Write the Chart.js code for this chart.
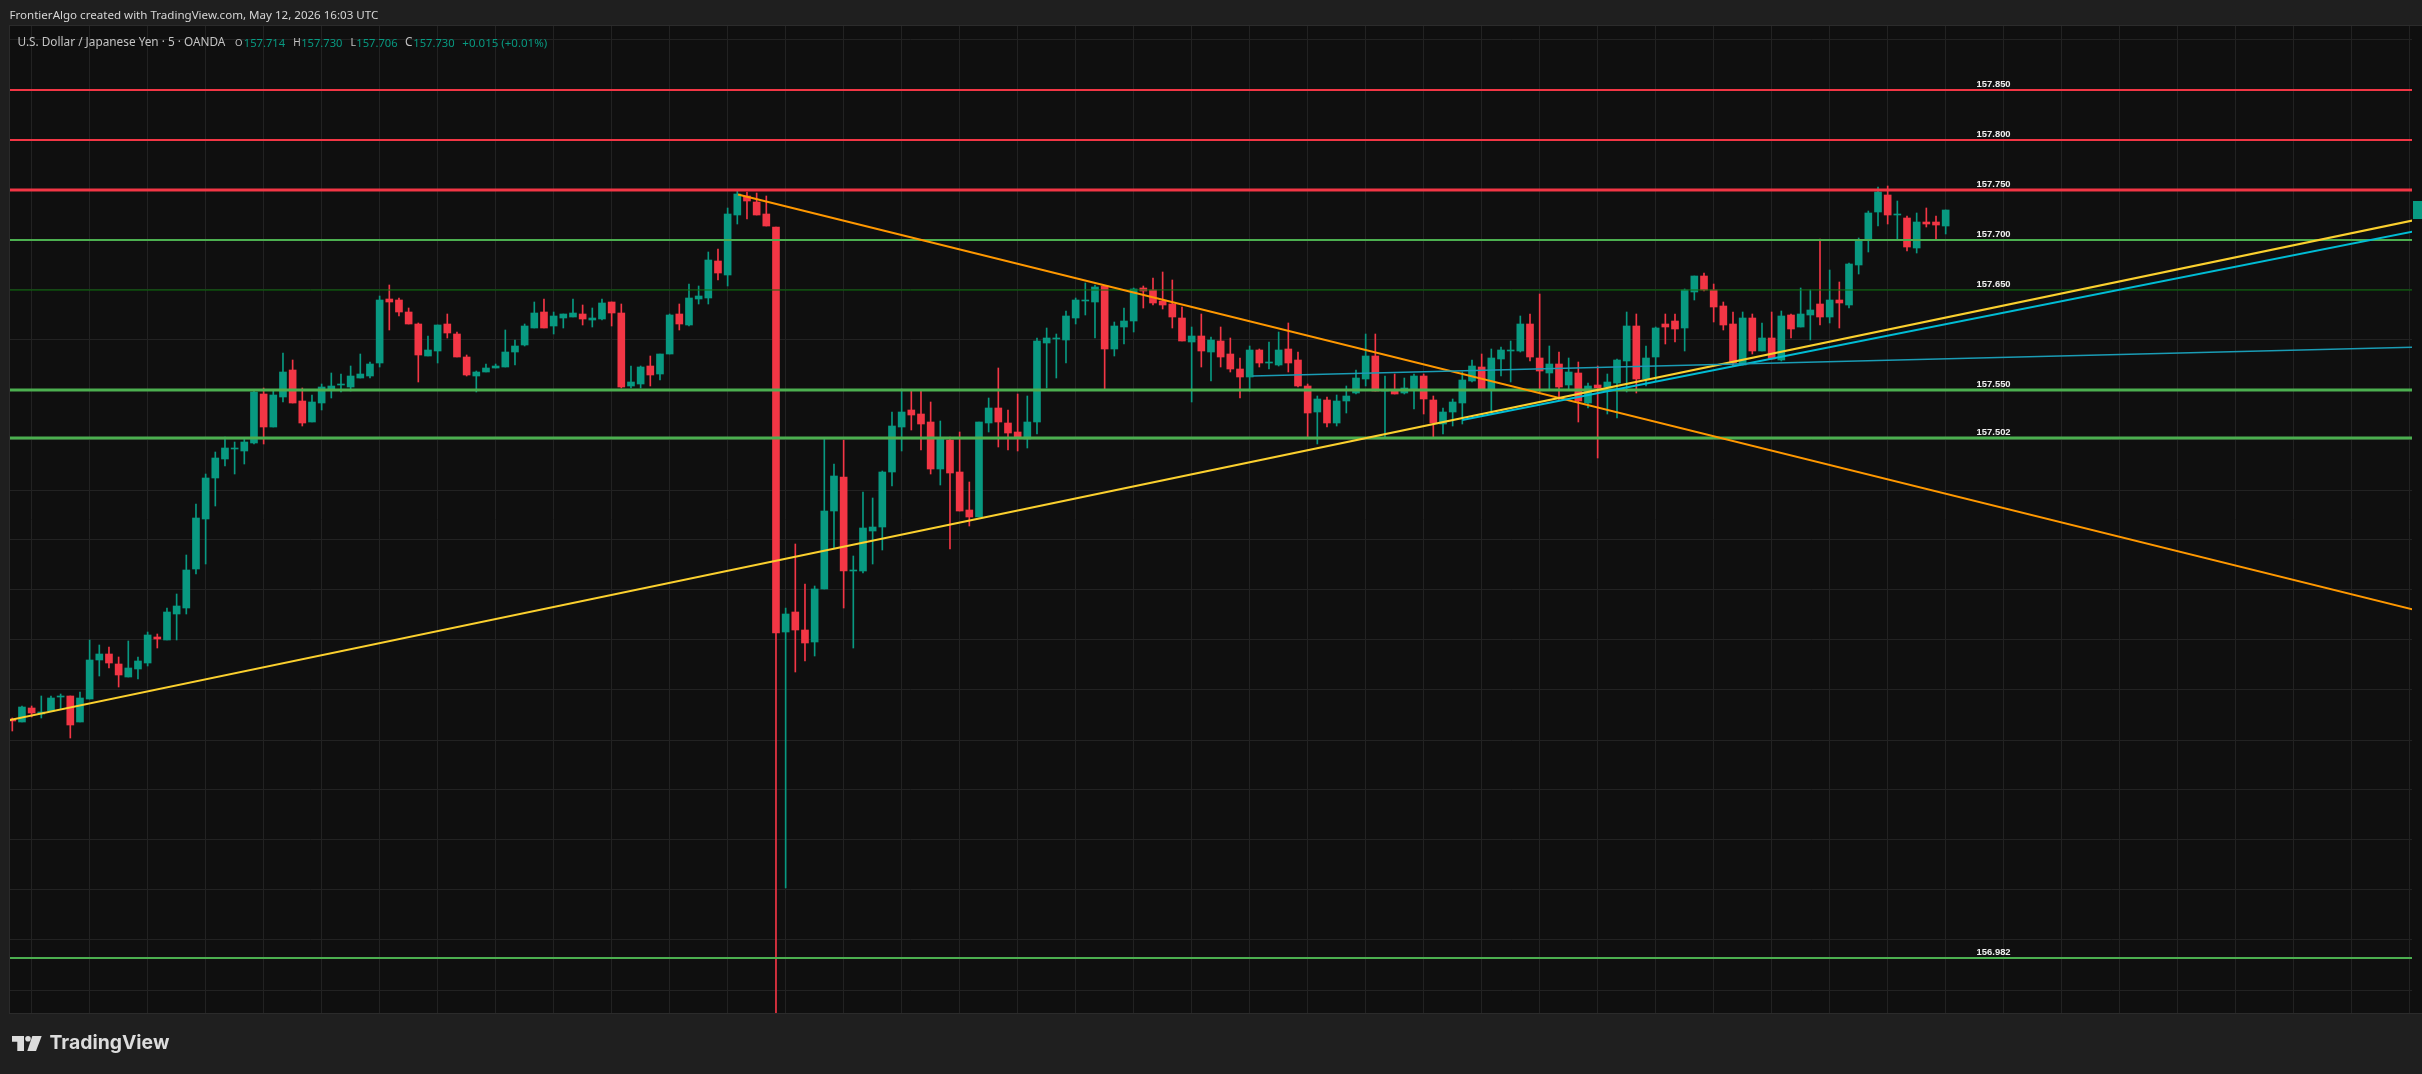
<!DOCTYPE html>
<html>
<head>
<meta charset="utf-8">
<title>USDJPY 5m</title>
<script src="https://cdn.jsdelivr.net/npm/chart.js@4.4.1/dist/chart.umd.min.js"></script>
<style>
  html, body { margin: 0; padding: 0; width: 2422px; height: 1074px; overflow: hidden; background: #1f1f1f; }
  #pane { position: absolute; left: 10px; top: 26px; width: 2412px; height: 987px; background: #0f0f0f;
          box-shadow: 0 0 0 1px #2b2b2b; }
  #chart { position: absolute; left: 0; top: 0; }
  .txt { position: absolute; white-space: nowrap; line-height: 1; }
  #tag { position: absolute; background: #089981; }
  #logo { position: absolute; left: 12px; top: 1036px; }
</style>
</head>
<body>
<div id="pane"></div>
<canvas id="chart" width="2422" height="1074"></canvas>
<div id="tag"></div>
<svg id="logo" width="32" height="16" viewBox="0 0 32 16">
  <path d="M0 0H12V15H5.3V5.7H0Z" fill="#dcdcdc"/>
  <circle cx="16" cy="2.8" r="2.8" fill="#dcdcdc"/>
  <path d="M20.3 0H29.7L24 15H15.3Z" fill="#dcdcdc"/>
</svg>
<script>
// USD/JPY 5 min candles, OANDA
const opens = [
  157.221, 157.218, 157.232, 157.226, 157.229, 157.243, 157.244, 157.218, 157.241, 157.280,
  157.286, 157.276, 157.263, 157.271, 157.277, 157.303, 157.300, 157.326, 157.332, 157.371,
  157.421, 157.462, 157.481, 157.491, 157.489, 157.497, 157.546, 157.513, 157.543, 157.570,
  157.539, 157.518, 157.537, 157.551, 157.555, 157.553, 157.562, 157.564, 157.577, 157.641,
  157.640, 157.628, 157.616, 157.584, 157.589, 157.616, 157.606, 157.583, 157.564, 157.568,
  157.572, 157.573, 157.588, 157.595, 157.612, 157.628, 157.614, 157.622, 157.623, 157.626,
  157.620, 157.621, 157.638, 157.627, 157.554, 157.556, 157.574, 157.566, 157.586, 157.626,
  157.615, 157.641, 157.642, 157.679, 157.665, 157.725, 157.744, 157.738, 157.726, 157.713,
  157.308, 157.328, 157.310, 157.298, 157.351, 157.429, 157.463, 157.369, 157.369, 157.409,
  157.413, 157.468, 157.513, 157.530, 157.526, 157.518, 157.471, 157.500, 157.468, 157.430,
  157.423, 157.517, 157.532, 157.517, 157.508, 157.501, 157.518, 157.597, 157.601, 157.600,
  157.622, 157.639, 157.638, 157.654, 157.591, 157.613, 157.619, 157.652, 157.650, 157.639,
  157.636, 157.622, 157.598, 157.604, 157.588, 157.599, 157.586, 157.571, 157.563, 157.590,
  157.577, 157.575, 157.591, 157.580, 157.554, 157.528, 157.540, 157.517, 157.539, 157.547,
  157.561, 157.584, 157.549, 157.550, 157.547, 157.551, 157.564, 157.540, 157.516, 157.528,
  157.537, 157.559, 157.573, 157.551, 157.581, 157.589, 157.589, 157.616, 157.582, 157.567,
  157.576, 157.555, 157.567, 157.537, 157.555, 157.553, 157.557, 157.579, 157.614, 157.561,
  157.583, 157.616, 157.619, 157.612, 157.648, 157.664, 157.650, 157.634, 157.616, 157.575,
  157.622, 157.589, 157.602, 157.580, 157.625, 157.613, 157.625, 157.636, 157.623, 157.640,
  157.635, 157.675, 157.700, 157.728, 157.745, 157.725, 157.722, 157.692, 157.718, 157.718,
  157.714
];
const highs = [
  157.222, 157.234, 157.234, 157.244, 157.244, 157.246, 157.244, 157.248, 157.300, 157.295,
  157.293, 157.283, 157.299, 157.283, 157.308, 157.306, 157.332, 157.346, 157.385, 157.436,
  157.466, 157.488, 157.503, 157.498, 157.502, 157.550, 157.552, 157.550, 157.587, 157.580,
  157.552, 157.545, 157.556, 157.567, 157.566, 157.574, 157.586, 157.578, 157.644, 157.655,
  157.642, 157.632, 157.617, 157.604, 157.615, 157.626, 157.608, 157.585, 157.569, 157.576,
  157.576, 157.610, 157.600, 157.616, 157.638, 157.641, 157.628, 157.626, 157.641, 157.635,
  157.632, 157.641, 157.638, 157.636, 157.574, 157.574, 157.584, 157.586, 157.626, 157.636,
  157.656, 157.654, 157.688, 157.691, 157.732, 157.750, 157.748, 157.747, 157.744, 157.713,
  157.332, 157.396, 157.356, 157.354, 157.501, 157.476, 157.500, 157.384, 157.448, 157.442,
  157.469, 157.528, 157.551, 157.550, 157.550, 157.538, 157.519, 157.503, 157.508, 157.458,
  157.518, 157.542, 157.572, 157.530, 157.546, 157.544, 157.602, 157.612, 157.606, 157.629,
  157.642, 157.657, 157.655, 157.654, 157.618, 157.632, 157.652, 157.654, 157.662, 157.668,
  157.660, 157.633, 157.613, 157.626, 157.603, 157.613, 157.602, 157.582, 157.594, 157.591,
  157.598, 157.608, 157.617, 157.588, 157.556, 157.544, 157.543, 157.545, 157.554, 157.570,
  157.606, 157.606, 157.564, 157.566, 157.562, 157.566, 157.566, 157.544, 157.532, 157.541,
  157.568, 157.580, 157.586, 157.591, 157.593, 157.599, 157.624, 157.626, 157.646, 157.594,
  157.588, 157.582, 157.578, 157.557, 157.574, 157.566, 157.581, 157.628, 157.626, 157.594,
  157.613, 157.626, 157.626, 157.651, 157.664, 157.667, 157.656, 157.638, 157.628, 157.628,
  157.626, 157.617, 157.628, 157.629, 157.626, 157.652, 157.650, 157.701, 157.670, 157.658,
  157.677, 157.702, 157.729, 157.753, 157.754, 157.739, 157.724, 157.727, 157.732, 157.724,
  157.730
];
const lows = [
  157.209, 157.218, 157.223, 157.222, 157.229, 157.231, 157.202, 157.218, 157.241, 157.264,
  157.272, 157.253, 157.263, 157.261, 157.274, 157.292, 157.300, 157.300, 157.326, 157.366,
  157.376, 157.434, 157.474, 157.466, 157.476, 157.496, 157.496, 157.513, 157.538, 157.537,
  157.514, 157.518, 157.530, 157.542, 157.548, 157.549, 157.562, 157.562, 157.573, 157.610,
  157.624, 157.616, 157.558, 157.584, 157.577, 157.602, 157.583, 157.564, 157.548, 157.568,
  157.572, 157.573, 157.575, 157.594, 157.612, 157.612, 157.606, 157.612, 157.623, 157.615,
  157.613, 157.620, 157.614, 157.552, 157.552, 157.552, 157.554, 157.560, 157.586, 157.610,
  157.614, 157.636, 157.636, 157.660, 157.654, 157.716, 157.721, 157.725, 157.714, 156.920,
  157.052, 157.268, 157.279, 157.284, 157.351, 157.392, 157.332, 157.292, 157.367, 157.376,
  157.390, 157.454, 157.489, 157.510, 157.490, 157.466, 157.455, 157.391, 157.429, 157.414,
  157.423, 157.508, 157.493, 157.490, 157.489, 157.492, 157.506, 157.552, 157.562, 157.577,
  157.616, 157.625, 157.602, 157.551, 157.584, 157.596, 157.608, 157.632, 157.635, 157.631,
  157.612, 157.599, 157.538, 157.573, 157.559, 157.573, 157.568, 157.542, 157.549, 157.573,
  157.571, 157.574, 157.568, 157.553, 157.503, 157.496, 157.513, 157.514, 157.527, 157.546,
  157.554, 157.549, 157.502, 157.546, 157.546, 157.531, 157.526, 157.503, 157.506, 157.514,
  157.516, 157.558, 157.551, 157.526, 157.564, 157.558, 157.588, 157.579, 157.548, 157.551,
  157.540, 157.551, 157.518, 157.532, 157.482, 157.526, 157.522, 157.548, 157.547, 157.554,
  157.559, 157.596, 157.598, 157.589, 157.640, 157.649, 157.618, 157.610, 157.574, 157.575,
  157.586, 157.589, 157.581, 157.579, 157.602, 157.613, 157.600, 157.615, 157.617, 157.612,
  157.632, 157.666, 157.688, 157.714, 157.716, 157.700, 157.689, 157.687, 157.713, 157.700,
  157.706
];
const closes = [
  157.219, 157.233, 157.227, 157.228, 157.242, 157.244, 157.215, 157.242, 157.280, 157.286,
  157.277, 157.265, 157.272, 157.279, 157.305, 157.301, 157.328, 157.334, 157.370, 157.422,
  157.462, 157.482, 157.492, 157.492, 157.498, 157.548, 157.513, 157.545, 157.568, 157.537,
  157.517, 157.538, 157.553, 157.554, 157.556, 157.564, 157.566, 157.576, 157.640, 157.638,
  157.628, 157.616, 157.585, 157.590, 157.615, 157.607, 157.583, 157.565, 157.568, 157.572,
  157.574, 157.588, 157.594, 157.614, 157.627, 157.612, 157.624, 157.626, 157.627, 157.621,
  157.622, 157.637, 157.627, 157.553, 157.558, 157.573, 157.565, 157.586, 157.625, 157.616,
  157.642, 157.644, 157.680, 157.667, 157.726, 157.746, 157.739, 157.725, 157.714, 157.307,
  157.326, 157.310, 157.297, 157.351, 157.429, 157.464, 157.369, 157.370, 157.412, 157.413,
  157.468, 157.514, 157.528, 157.525, 157.516, 157.471, 157.502, 157.467, 157.429, 157.423,
  157.518, 157.532, 157.518, 157.507, 157.503, 157.518, 157.599, 157.602, 157.602, 157.624,
  157.640, 157.640, 157.653, 157.591, 157.614, 157.619, 157.651, 157.649, 157.637, 157.635,
  157.623, 157.599, 157.604, 157.589, 157.600, 157.583, 157.571, 157.563, 157.590, 157.577,
  157.578, 157.590, 157.577, 157.554, 157.527, 157.541, 157.517, 157.539, 157.544, 157.562,
  157.584, 157.549, 157.550, 157.546, 157.552, 157.564, 157.541, 157.517, 157.528, 157.538,
  157.560, 157.574, 157.551, 157.582, 157.590, 157.590, 157.616, 157.583, 157.569, 157.576,
  157.553, 157.568, 157.539, 157.554, 157.552, 157.558, 157.580, 157.614, 157.561, 157.582,
  157.612, 157.613, 157.611, 157.650, 157.664, 157.650, 157.633, 157.615, 157.577, 157.622,
  157.589, 157.602, 157.581, 157.624, 157.611, 157.626, 157.630, 157.623, 157.640, 157.637,
  157.676, 157.700, 157.727, 157.748, 157.725, 157.726, 157.693, 157.718, 157.716, 157.715,
  157.730
];

// horizontal levels drawn on the chart
const levels = [157.850, 157.800, 157.750, 157.700, 157.650, 157.550, 157.502, 156.982];
const levelLabels = ['157.850', '157.800', '157.750', '157.700', '157.650', '157.550', '157.502', '156.982'];

// trend lines: [candle index, price] end points
const yellowLine = [[-1, 157.2185], [250, 157.7229]];
const cyanLine = [[150, 157.520], [250, 157.7117]];
const cyanThinLine = [[128.3, 157.564], [250, 157.5931]];
const orangeLine = [[75.07, 157.7455], [250, 157.3265]];

// visible range
const xMin = -0.238, xMax = 248.24;
const yMin = 156.927, yMax = 157.914;

const up = '#089981', down = '#f23645';
const levelColors = ['#f23645', '#f23645', '#f23645', '#4caf50', '#0a6e0a', '#4caf50', '#4caf50', '#4caf50'];
const levelWidths = [2, 2, 3, 2, 1, 3, 3, 2];
const gridColor = '#222222';

const candleColors = closes.map((c, i) => c >= opens[i] ? up : down);

const toPts = arr => arr.map(p => ({ x: p[0], y: p[1] }));

const datasets = [];
levels.forEach((v, i) => {
    datasets.push({
        type: 'line', data: [{ x: xMin, y: v }, { x: xMax, y: v }],
        borderColor: levelColors[i], borderWidth: levelWidths[i],
        pointRadius: 0, clip: 0, order: 1
    });
});
datasets.push({ type: 'line', data: toPts(cyanThinLine), borderColor: '#1a9cb5', borderWidth: 1.5, pointRadius: 0, clip: 0, order: 0 });
datasets.push({ type: 'line', data: toPts(cyanLine), borderColor: '#00bcd4', borderWidth: 2, pointRadius: 0, clip: 0, order: 0 });
datasets.push({ type: 'line', data: toPts(yellowLine), borderColor: '#fbd02e', borderWidth: 2, pointRadius: 0, clip: 0, order: 0 });
datasets.push({ type: 'line', data: toPts(orangeLine), borderColor: '#ff9800', borderWidth: 2, pointRadius: 0, clip: 0, order: 0 });

// candle bodies and wicks
datasets.push({
    type: 'bar',
    data: opens.map((o, i) => ({ x: i, y: [Math.min(o, closes[i]), Math.max(o, closes[i])] })),
    backgroundColor: candleColors, barThickness: 7, minBarLength: 1,
    grouped: false, borderWidth: 0, clip: 0, order: 5
});
datasets.push({
    type: 'bar',
    data: lows.map((l, i) => ({ x: i, y: [l, highs[i]] })),
    backgroundColor: candleColors, barThickness: 1,
    grouped: false, borderWidth: 0, clip: 0, order: 6
});

const xGrid = [];
for (let k = 2; k <= 248; k += 6) xGrid.push({ value: k });
const yGrid = [];
for (let j = 0; j < 20; j++) yGrid.push({ value: +(156.95 + j * 0.05).toFixed(3) });

const chart = new Chart(document.getElementById('chart').getContext('2d'), {
    type: 'bar',
    data: { datasets },
    options: {
        responsive: false,
        animation: false,
        devicePixelRatio: 1,
        events: [],
        layout: { padding: { left: 10, right: 10, top: 26, bottom: 61 } },
        plugins: { legend: { display: false }, tooltip: { enabled: false } },
        scales: {
            x: {
                type: 'linear', min: xMin, max: xMax, offset: false,
                grid: { color: gridColor, drawTicks: false, offset: false },
                border: { display: false },
                ticks: { display: false },
                afterBuildTicks: s => { s.ticks = xGrid; }
            },
            y: {
                type: 'linear', min: yMin, max: yMax,
                grid: { color: gridColor, drawTicks: false },
                border: { display: false },
                ticks: { display: false },
                afterBuildTicks: s => { s.ticks = yGrid; }
            }
        }
    }
});

// text helpers: place a span and fit it to a measured width
function placeText(text, x, yMid, width, color, font, weight) {
    const s = document.createElement('span');
    s.className = 'txt';
    s.textContent = text;
    s.style.left = x + 'px';
    s.style.color = color;
    s.style.fontFamily = font;
    s.style.fontWeight = weight || 400;
    s.style.fontSize = '20px';
    document.body.appendChild(s);
    const w = s.getBoundingClientRect().width;
    const fs = 20 * width / w;
    s.style.fontSize = fs.toFixed(2) + 'px';
    s.style.top = (yMid - fs * 0.53).toFixed(1) + 'px';
    return s;
}

const uiFont = '"Noto Sans", "Open Sans", sans-serif';
placeText('FrontierAlgo created with TradingView.com, May 12, 2026 16:03 UTC', 9.5, 15, 369, '#d6d6d6', uiFont);

// legend row
const last = opens.length - 1;
const chg = closes[last] - closes[last - 1];
const legendGrey = '#c3c3c3';
placeText('U.S. Dollar / Japanese Yen \u00b7 5 \u00b7 OANDA', 17.5, 42.7, 208, legendGrey, uiFont);
placeText('O', 235, 42.7, 7.5, legendGrey, uiFont);
placeText(opens[last].toFixed(3), 243.8, 42.7, 41.3, up, uiFont);
placeText('H', 293.2, 42.7, 7.5, legendGrey, uiFont);
placeText(highs[last].toFixed(3), 301.2, 42.7, 41.3, up, uiFont);
placeText('L', 350.6, 42.7, 5.5, legendGrey, uiFont);
placeText(lows[last].toFixed(3), 356.3, 42.7, 41.3, up, uiFont);
placeText('C', 404.9, 42.7, 7.5, legendGrey, uiFont);
placeText(closes[last].toFixed(3), 413.3, 42.7, 41.3, up, uiFont);
placeText((chg >= 0 ? '+' : '') + chg.toFixed(3) + ' (' + (chg >= 0 ? '+' : '') + (chg / closes[last - 1] * 100).toFixed(2) + '%)',
    462.3, 42.7, 85, up, uiFont);

// level labels
const xs = chart.scales.x, ys = chart.scales.y;
const labelIndex = 203.2;
levels.forEach((v, i) => {
    const py = ys.getPixelForValue(v);
    placeText(levelLabels[i], xs.getPixelForValue(labelIndex), py - 5.8, 34, '#f0f0f0', '"Liberation Sans", Arial, sans-serif', 700);
});

// last price tag on the price scale edge
const tag = document.getElementById('tag');
const ty = ys.getPixelForValue(closes[last]);
tag.style.left = '2413px';
tag.style.width = '9px';
tag.style.top = (ty - 9) + 'px';
tag.style.height = '18px';

// brand
placeText('TradingView', 49.5, 1043.5, 120, '#dcdcdc', 'Inter, "Noto Sans", sans-serif', 700);
</script>
</body>
</html>
